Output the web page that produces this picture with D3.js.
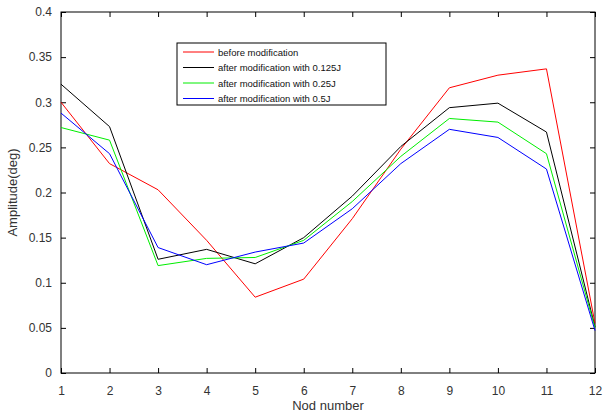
<!DOCTYPE html>
<html>
<head>
<meta charset="utf-8">
<script src="https://cdn.jsdelivr.net/npm/d3@7"></script>
<style>
  body { margin: 0; background: #fff; }
  text { font-family: "Liberation Sans", Arial, sans-serif; }
</style>
</head>
<body>
<div id="chart"></div>
<script>
var width = 604, height = 415;

// node numbers along the x axis
var nodes = [1, 2, 3, 4, 5, 6, 7, 8, 9, 10, 11, 12];

// amplitude values
var before  = [0.300, 0.232, 0.203, 0.147, 0.084, 0.104, 0.171, 0.248, 0.316, 0.330, 0.337, 0.055];
var after0125 = [0.320, 0.273, 0.126, 0.137, 0.121, 0.150, 0.196, 0.251, 0.294, 0.299, 0.267, 0.051];
var after025  = [0.272, 0.258, 0.119, 0.127, 0.128, 0.147, 0.190, 0.240, 0.282, 0.278, 0.243, 0.050];
var after05   = [0.288, 0.243, 0.139, 0.120, 0.134, 0.144, 0.182, 0.232, 0.270, 0.261, 0.226, 0.047];

var yTicks = [0, 0.05, 0.1, 0.15, 0.2, 0.25, 0.3, 0.35, 0.4];
var yTickLabels = ["0", "0.05", "0.1", "0.15", "0.2", "0.25", "0.3", "0.35", "0.4"];

var seriesNames = ["before modification", "after modification with 0.125J",
                   "after modification with 0.25J", "after modification with 0.5J"];
var seriesColors = ["#ff0000", "#000000", "#00ee00", "#0000ff"];
var seriesValues = [before, after0125, after025, after05];

var margin = {top: 12, right: 9, bottom: 42, left: 61},
    gwidth = width - margin.left - margin.right,
    gheight = height - margin.top - margin.bottom;

var svg = d3.select("#chart").append("svg")
            .attr("width", width)
            .attr("height", height);

var g = svg.append("g")
           .attr("transform", "translate(" + margin.left + "," + margin.top + ")");

var xScale = d3.scaleLinear().domain([1, 12]).range([0, gwidth]);
var yScale = d3.scaleLinear().domain([0, 0.4]).range([gheight, 0]);

// frame
g.append("rect")
 .attr("width", gwidth)
 .attr("height", gheight)
 .style("fill", "none")
 .style("stroke", "#000")
 .style("stroke-width", 1);

// axes, MATLAB style ticks pointing inward
var xaxis = d3.axisBottom(xScale).tickValues(nodes).tickSizeInner(-5).tickSizeOuter(0).tickPadding(13);
var yaxis = d3.axisLeft(yScale).tickValues(yTicks).tickSizeInner(-5).tickSizeOuter(0).tickPadding(9)
              .tickFormat(function(d, i) { return yTickLabels[i]; });

g.append("g").attr("transform", "translate(0," + gheight + ")").call(xaxis);
g.append("g").call(yaxis);
g.append("g").call(d3.axisTop(xScale).tickValues(nodes).tickSizeInner(-5).tickSizeOuter(0).tickFormat(""));
g.append("g").attr("transform", "translate(" + gwidth + ",0)")
 .call(d3.axisRight(yScale).tickValues(yTicks).tickSizeInner(-5).tickSizeOuter(0).tickFormat(""));

g.selectAll(".domain").remove();
g.selectAll(".tick line").style("stroke", "#000");
g.selectAll(".tick text").style("font-size", "12px").style("fill", "#333");

// lines
var line = d3.line()
             .x(function(d, i) { return xScale(nodes[i]); })
             .y(function(d) { return yScale(d); });

seriesValues.forEach(function(vals, k) {
  g.append("path")
   .datum(vals)
   .attr("d", line)
   .style("fill", "none")
   .style("stroke", seriesColors[k])
   .style("stroke-width", 1);
});

// legend
var legend = svg.append("g").attr("transform", "translate(177,43)");
legend.append("rect")
      .attr("width", 209)
      .attr("height", 62)
      .style("fill", "#fff")
      .style("stroke", "#000");

seriesNames.forEach(function(name, k) {
  var y = 9 + k * 15.5;
  legend.append("line")
        .attr("x1", 6).attr("x2", 37)
        .attr("y1", y).attr("y2", y)
        .style("stroke", seriesColors[k]);
  legend.append("text")
        .attr("x", 41).attr("y", y + 3.5)
        .style("font-size", "9.5px")
        .style("fill", "#111")
        .text(name);
});

// axis labels
svg.append("text")
   .attr("text-anchor", "middle")
   .attr("x", margin.left + gwidth / 2)
   .attr("y", 410)
   .style("font-size", "13px")
   .style("fill", "#333")
   .text("Nod number");

svg.append("text")
   .attr("text-anchor", "middle")
   .attr("transform", "translate(17," + (margin.top + gheight / 2) + ") rotate(-90)")
   .style("font-size", "13px")
   .style("fill", "#333")
   .text("Amplitude(deg)");
</script>
</body>
</html>
